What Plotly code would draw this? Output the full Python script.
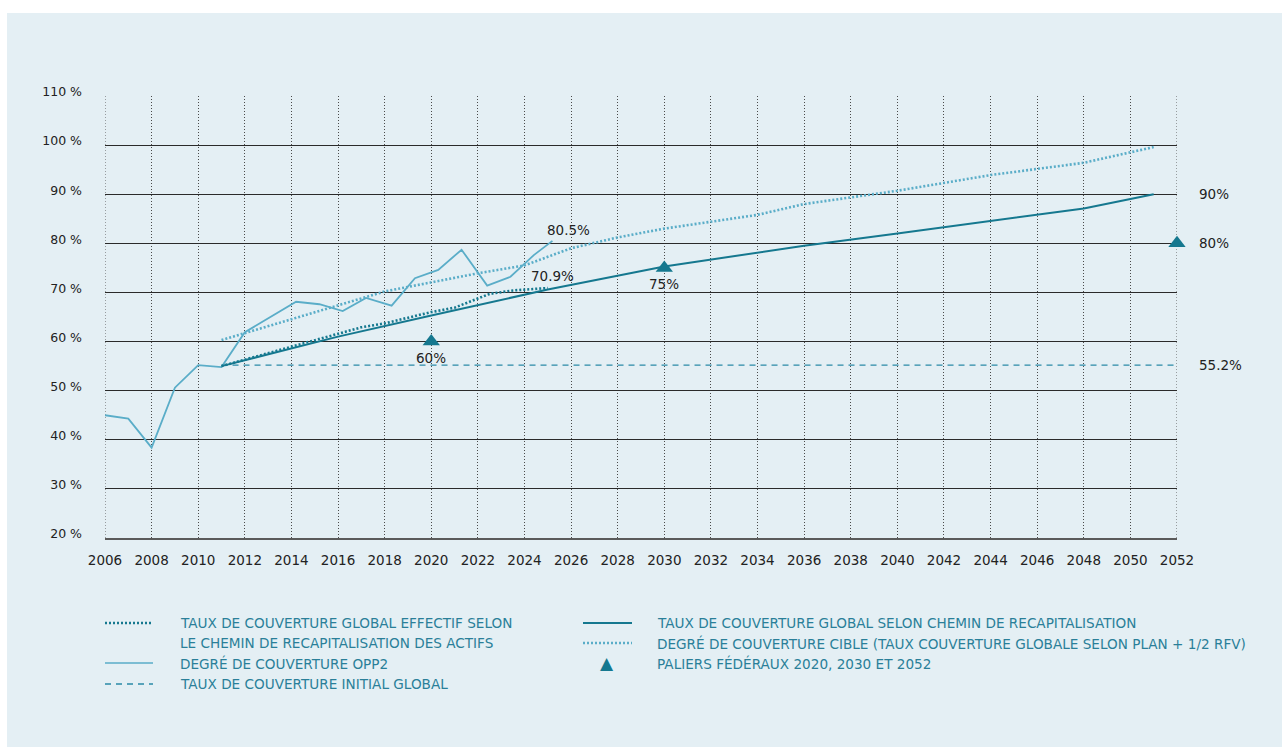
import plotly.graph_objects as go

# ---------------- data ----------------
opp2_years = [2006, 2007, 2008, 2009, 2010, 2011, 2012, 2014.2, 2015.2, 2016.2, 2017.2,
              2018.3, 2019.3, 2020.3, 2021.3, 2022.4, 2023.4, 2024.4, 2025.2]
opp2_vals = [45.0, 44.3, 38.4, 50.6, 55.2, 54.8, 61.9, 68.1, 67.6, 66.2, 68.9,
             67.3, 72.9, 74.6, 78.7, 71.4, 73.2, 77.6, 80.5]

eff_years = [2011, 2012, 2013, 2014, 2015, 2016, 2017, 2018, 2019, 2020, 2021, 2022, 2022.5, 2023.5, 2025]
eff_vals = [55.0, 56.3, 57.6, 59.0, 60.2, 61.6, 62.9, 63.7, 64.9, 66.0, 66.9, 68.8, 69.7, 70.4, 70.9]

recap_years = [2011, 2016, 2020, 2025, 2030, 2036, 2040, 2044, 2048, 2051]
recap_vals = [55.0, 61.0, 65.3, 70.6, 75.3, 79.5, 82.0, 84.6, 87.1, 90.0]

target_years = [2011, 2018, 2022, 2024, 2026, 2028, 2030, 2034, 2036, 2040, 2044, 2048, 2051]
target_vals = [60.3, 70.2, 73.9, 75.5, 79.0, 81.2, 83.0, 85.8, 88.0, 90.7, 93.9, 96.4, 99.6]

initial_years = [2011, 2052]
initial_vals = [55.2, 55.2]

milestone_years = [2020, 2030, 2052]
milestone_vals = [60, 75, 80]

x_range = [2006, 2052]

legend_labels = [
    "TAUX DE COUVERTURE GLOBAL EFFECTIF SELON",
    "LE CHEMIN DE RECAPITALISATION DES ACTIFS",
    "DEGRÉ DE COUVERTURE OPP2",
    "TAUX DE COUVERTURE INITIAL GLOBAL",
    "TAUX DE COUVERTURE GLOBAL SELON CHEMIN DE RECAPITALISATION",
    "DEGRÉ DE COUVERTURE CIBLE (TAUX COUVERTURE GLOBALE SELON PLAN + 1/2 RFV)",
    "PALIERS FÉDÉRAUX 2020, 2030 ET 2052",
]

# ---------------- styles ----------------
DARK = "#15788f"
LIGHT = "#5aadc8"
MID = "#2a8aa6"
TXT = "#222222"
LEG_TXT = "#2a7f99"
BG = "#e4eff4"
VGRID = "#4a4a4a"
FONT = "DejaVu Sans"

W, H = 1282, 747
L, R, T, B = 105, 105, 96, 209
PW, PH = W - L - R, H - T - B


def px(x):
    return (x - L) / PW


def py(y):
    return (H - B - y) / PH


fig = go.Figure()

fig.add_trace(go.Scatter(x=initial_years, y=initial_vals, mode="lines",
                         line=dict(color=MID, width=1.3, dash="6px,5px"), hoverinfo="skip"))
fig.add_trace(go.Scatter(x=opp2_years, y=opp2_vals, mode="lines",
                         line=dict(color=LIGHT, width=1.8), hoverinfo="skip"))
fig.add_trace(go.Scatter(x=target_years, y=target_vals, mode="lines",
                         line=dict(color=LIGHT, width=2.6, dash="2px,2px"), hoverinfo="skip"))
fig.add_trace(go.Scatter(x=recap_years, y=recap_vals, mode="lines",
                         line=dict(color=DARK, width=2), hoverinfo="skip"))
fig.add_trace(go.Scatter(x=eff_years, y=eff_vals, mode="lines",
                         line=dict(color=DARK, width=2.6, dash="2px,2px"), hoverinfo="skip"))
fig.add_trace(go.Scatter(x=milestone_years, y=milestone_vals, mode="markers",
                         marker=dict(symbol="triangle-up", size=15, color=DARK),
                         cliponaxis=False, hoverinfo="skip"))

# value annotations
ann = []
def vlabel(x, y, text, xanchor="center", xshift=0):
    ann.append(dict(x=x, y=y, xref="x", yref="y", text=text, showarrow=False,
                    xanchor=xanchor, yanchor="middle", xshift=xshift,
                    font=dict(family=FONT, size=13.5, color=TXT)))

vlabel(opp2_years[-1] + 0.7, opp2_vals[-1] + 2.2, "80.5%")
vlabel(eff_years[-1] + 0.2, eff_vals[-1] + 2.5, "70.9%")
vlabel(milestone_years[0], milestone_vals[0] - 3.3, "60%")
vlabel(milestone_years[1], milestone_vals[1] - 3.3, "75%")
vlabel(x_range[1], milestone_vals[2], "80%", "left", 20)
vlabel(x_range[1], recap_vals[-1], "90%", "left", 20)
vlabel(x_range[1], initial_vals[-1], "55.2%", "left", 20)

shapes = [dict(type="rect", xref="paper", yref="paper", x0=px(7), x1=px(W), y0=py(H), y1=py(13),
               fillcolor=BG, line=dict(width=0), layer="below")]
# edge gridlines (2006 and 2052)
for xe in x_range:
    shapes.append(dict(type="line", xref="x", yref="paper", x0=xe, x1=xe, y0=0, y1=1,
                       line=dict(color=VGRID, width=1, dash="1px,2px"), layer="below"))

def leg_line(x0, x1, y, color, width, dash):
    shapes.append(dict(type="line", xref="paper", yref="paper", x0=px(x0), x1=px(x1),
                       y0=py(y), y1=py(y), line=dict(color=color, width=width, dash=dash)))

def leg_text(x, y, text):
    ann.append(dict(x=px(x), y=py(y), xref="paper", yref="paper", text=text, showarrow=False,
                    xanchor="left", yanchor="middle", font=dict(family=FONT, size=13.6, color=LEG_TXT)))

leg_line(105, 153, 623, DARK, 2.6, "2px,2px")
leg_line(105, 153, 663, LIGHT, 1.5, "solid")
leg_line(105, 153, 684, MID, 1.3, "6px,5px")
leg_line(583, 632, 623, DARK, 2, "solid")
leg_line(583, 632, 643, LIGHT, 2.6, "2px,2px")
ann.append(dict(x=px(607), y=py(663), xref="paper", yref="paper", text="▲", showarrow=False,
                xanchor="center", yanchor="middle", font=dict(family=FONT, size=17, color=DARK)))

leg_text(178, 623, legend_labels[0])
leg_text(178, 643, legend_labels[1])
leg_text(178, 663, legend_labels[2])
leg_text(178, 684, legend_labels[3])
leg_text(655, 623, legend_labels[4])
leg_text(655, 643, legend_labels[5])
leg_text(655, 663, legend_labels[6])

fig.update_layout(
    width=W, height=H,
    margin=dict(l=L, r=R, t=T, b=B, pad=0),
    paper_bgcolor="white", plot_bgcolor="rgba(0,0,0,0)",
    showlegend=False,
    annotations=ann, shapes=shapes,
    font=dict(family=FONT, color=TXT),
)
fig.update_xaxes(range=x_range, tick0=2006, dtick=2, showgrid=True,
                 gridcolor=VGRID, griddash="1px,2px", gridwidth=1,
                 showline=True, linecolor="#5a5a5a", linewidth=2, zeroline=False,
                 ticks="", ticklabelstandoff=9, tickfont=dict(family=FONT, size=13.5, color=TXT))
fig.update_yaxes(range=[20, 110], tick0=20, dtick=10, showgrid=True,
                 gridcolor="#2a2a2a", gridwidth=1.2, zeroline=False, showline=False,
                 ticksuffix=" %", ticks="", ticklabelstandoff=22, ticklabelshift=-4,
                 tickfont=dict(family=FONT, size=12.5, color=TXT))

fig.write_html("out.html")
